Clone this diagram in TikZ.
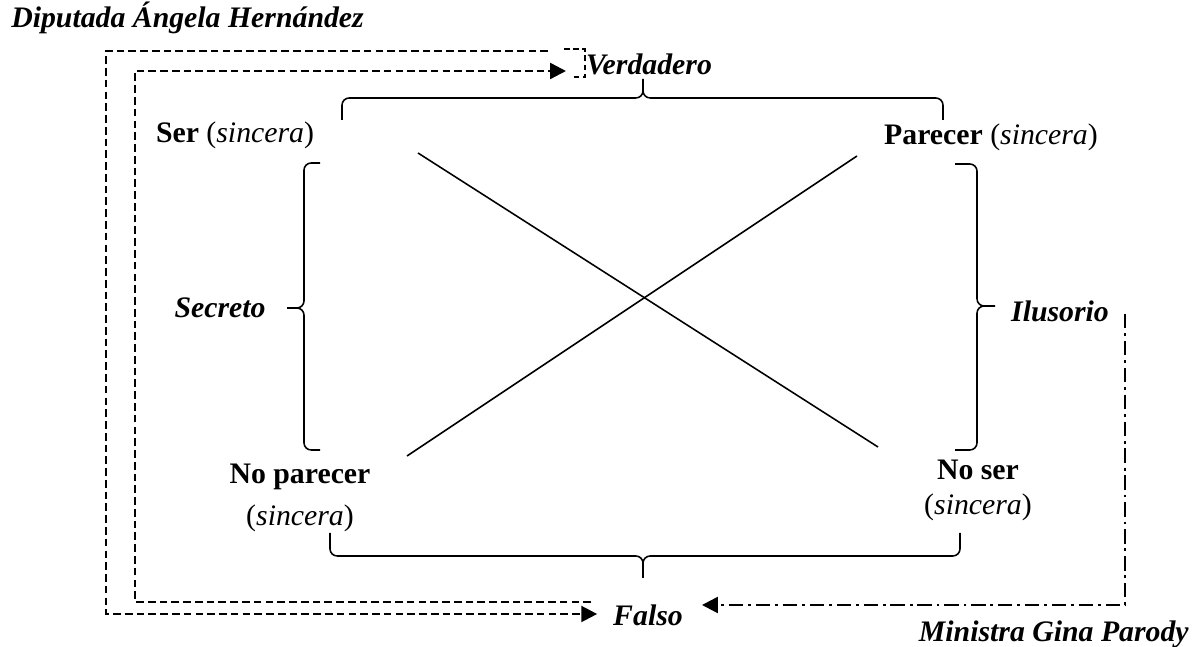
\documentclass[tikz,border=0pt]{standalone}
\usepackage{fontspec}
\setmainfont{Liberation Serif}
\usetikzlibrary{arrows.meta,positioning}

\tikzset{
  rolelabel/.style={font=\fontsize{12.4}{14}\selectfont\bfseries\itshape, inner sep=2pt},
  termlabel/.style={font=\fontsize{12.4}{14}\selectfont, inner sep=2pt},
  axislabel/.style={font=\fontsize{12.4}{14}\selectfont\bfseries\itshape, inner sep=2pt},
  crossline/.style={line width=0.65pt},
  bracepath/.style={line width=0.65pt, rounded corners=3pt},
  dashline/.style={line width=1pt, dash pattern=on 3.2pt off 1.7pt},
  dasharrow/.style={dashline, -{Triangle[length=6.6pt,width=6.6pt]}},
  framepath/.style={line width=0.5pt, dash pattern=on 2.4pt off 1.4pt},
  dotarrow/.style={line width=1pt, dash pattern=on 6pt off 2pt on 1.2pt off 2pt,
    -{Triangle[length=6.6pt,width=6.6pt]}},
}

\begin{document}
\begin{tikzpicture}[x=0.01464cm, y=-0.01464cm]
\useasboundingbox (0,0) rectangle (1196,647);

% square corners
\node[termlabel] (ser) at (235,135) {\textbf{Ser} (\textit{sincera})};
\node[termlabel] (par) at (991,137) {\textbf{Parecer} (\textit{sincera})};
\node[termlabel] (npar) at (300,477) {\textbf{No parecer}};
\node[termlabel, below=2pt of npar] (npars) {(\textit{sincera})};
\node[termlabel] (nser) at (978,470) {\textbf{No ser}};
\node[termlabel, below=1.5pt of nser] (nsers) {(\textit{sincera})};

% axis labels
\node[axislabel] (ver) at (649,64) {Verdadero};
\node[axislabel] (sec) at (220,308) {Secreto};
\node[axislabel] (ilu) at (1060,311) {Ilusorio};
\node[axislabel] (fal) at (648,615) {Falso};

% actors
\node[rolelabel, anchor=west] (dip) at (6,18) {Diputada Ángela Hernández};
\node[rolelabel, anchor=east] (min) at (1194,634) {Ministra Gina Parody};

% diagonals
\draw[crossline] (418,153) -- (878,447);
\draw[crossline] (857,156) -- (407,456);

% braces
\draw[bracepath] (342,120) |- (643,98) -- (643,79)
                 (643,79) -- (643,98) -| (943,120);
\draw[bracepath] (320,163) -| (304,308) -- (287,308)
                 (287,308) -- (304,308) |- (320,450);
\draw[bracepath] (955,164) -| (977,306) -- (995,306)
                 (995,306) -- (977,306) |- (955,450);
\draw[bracepath] (330,533) |- (643,556) -- (643,578)
                 (643,578) -- (643,556) -| (960,533);

% Diputada
\draw[framepath] (564,49) -- (585,49) -- (585,77) -- (574,77);
\coordinate (dipa) at (548,51);
\coordinate (dipb) at (591,602);
\draw[dasharrow, shorten >=4.5pt] (dipa) -- (106,51) -- (106,614) -- (fal.west |- 0,614);
\draw[dasharrow] (dipb) -- (135,602) -- (135,71) -- (566,71);

% Ministra
\coordinate (mina) at (1125,314);
\draw[dotarrow, shorten >=5.8pt] (mina) -- (1125,605) -- (fal.east |- 0,605);

\end{tikzpicture}
\end{document}
